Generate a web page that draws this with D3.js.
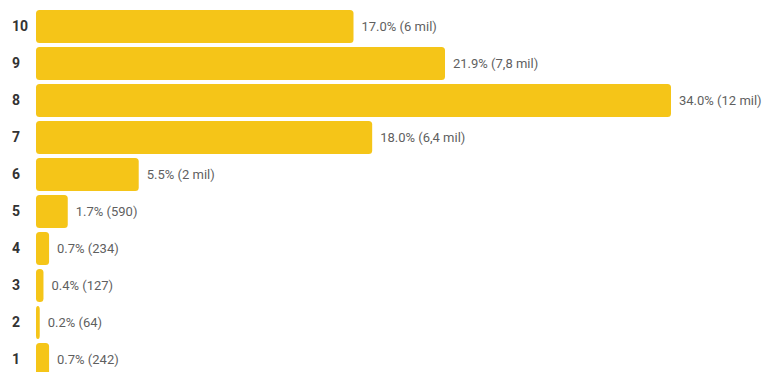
<!DOCTYPE html>
<html>
<head>
<meta charset="utf-8">
<script src="https://cdn.jsdelivr.net/npm/d3@7/dist/d3.min.js"></script>
<style>
  html, body { margin: 0; padding: 0; background: #fff; }
  svg { display: block; }
</style>
</head>
<body>
<svg id="chart" width="763" height="372"></svg>
<script>
// Rating distribution: share of votes per score, with vote counts
const ratings = ["10", "9", "8", "7", "6", "5", "4", "3", "2", "1"];
const percents = [17.0, 21.9, 34.0, 18.0, 5.5, 1.7, 0.7, 0.4, 0.2, 0.7];
const counts = ["6 mil", "7,8 mil", "12 mil", "6,4 mil", "2 mil", "590", "234", "127", "64", "242"];

const svg = d3.select("#chart");

const x = d3.scaleLinear().domain([0, 34]).range([36, 671]);
const y = d3.scaleBand().domain(ratings).range([10, 376]).paddingInner(4 / 37).paddingOuter(0);

const rows = ratings.map((r, i) => ({ r, p: percents[i], c: counts[i] }));

svg.append("g").selectAll("rect").data(rows).join("rect")
  .attr("x", x(0))
  .attr("y", d => y(d.r))
  .attr("width", d => x(d.p) - x(0))
  .attr("height", y.bandwidth())
  .attr("rx", 3.5).attr("ry", 3.5)
  .attr("fill", "#F5C518");

// category labels on the left
const yAxis = d3.axisLeft(y).tickSize(0).tickPadding(0);
const ay = svg.append("g").attr("transform", "translate(12,0)").call(yAxis);
ay.select(".domain").remove();
ay.selectAll("text")
  .attr("text-anchor", "start")
  .attr("font-family", "Roboto, sans-serif")
  .attr("font-size", 14)
  .attr("font-weight", "bold")
  .attr("fill", "#333");

// value labels after each bar
svg.append("g").selectAll("text").data(rows).join("text")
  .attr("x", d => x(d.p) + 8)
  .attr("y", d => y(d.r) + y.bandwidth() / 2)
  .attr("dy", "0.35em")
  .attr("font-family", "Roboto, sans-serif")
  .attr("font-size", 13)
  .attr("fill", "#5f5f5f")
  .text(d => `${d.p.toFixed(1)}% (${d.c})`);
</script>
</body>
</html>
